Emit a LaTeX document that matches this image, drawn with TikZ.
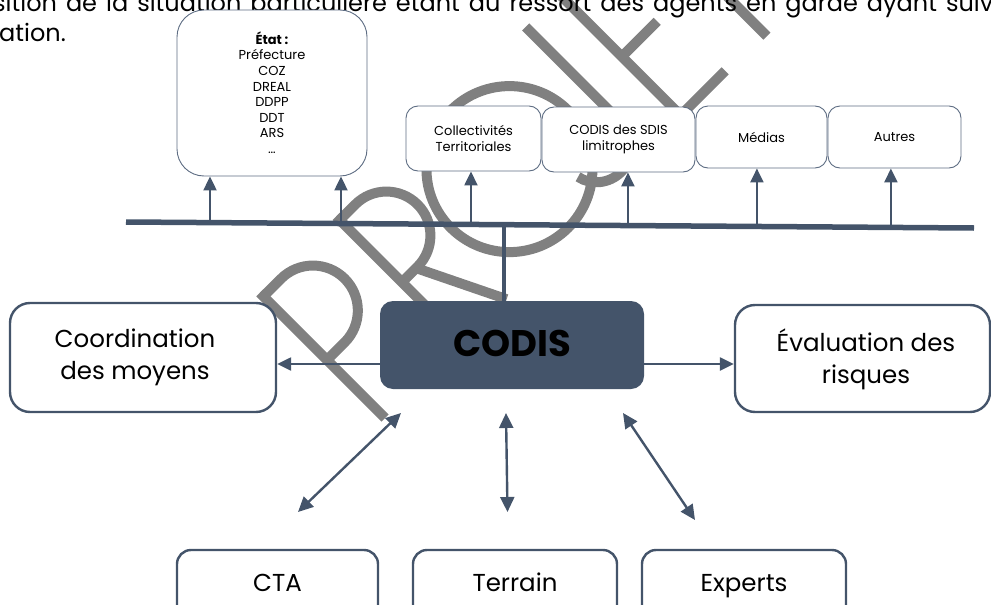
\documentclass[tikz,border=0pt]{standalone}
\usepackage{fontspec}
\setmainfont{Poppins}
\usetikzlibrary{arrows.meta,calc}
\definecolor{slate}{HTML}{44546A}
\definecolor{slateline}{HTML}{5E6D83}
\definecolor{wmgray}{HTML}{808080}
\begin{document}
\begin{tikzpicture}[x=1pt,y=-1pt,
  bigtext/.style={font=\fontsize{24.5}{32}\selectfont, align=center, text=black},
  smalltext/.style={font=\fontsize{13}{16.5}\selectfont, align=center, text=black},
  bigbox/.style={draw=slate, line width=2.4pt, rounded corners=18pt, fill=white, inner sep=0pt},
  smallbox/.style={draw=slateline, line width=0.9pt, rounded corners=12pt, fill=white, inner sep=0pt},
  oneline/.style={text height=17pt, text depth=5pt},
  uplink/.style={draw=slate, line width=2.2pt, -{Triangle[length=14pt,width=13pt]}},
  twoway/.style={draw=slate, line width=2.4pt, {Triangle[length=15pt,width=14pt]}-{Triangle[length=15pt,width=14pt]}},
  sidelink/.style={draw=slate, line width=2.4pt, -{Triangle[length=14pt,width=13pt]}},
  wm/.style={draw=wmgray, line width=10pt, line cap=butt, line join=miter}
]
\path[use as bounding box] (0,0) rectangle (991,605);
\clip (0,0) rectangle (991,605);

% --- watermark lettering, drawn behind everything ---
\begin{scope}[shift={(385,418)}, rotate=45, yscale=-1]
  % P
  \draw[wm] (0,0) -- (0,177);
  \draw[wm] (0,172) -- (25,172) .. controls (49.8,172) and (70,151.8) .. (70,127)
        .. controls (70,102.2) and (49.8,82) .. (25,82) -- (0,82);
  % R
  \draw[wm] (108,0) -- (108,177);
  \draw[wm] (108,172) -- (130,172) .. controls (154.3,172) and (174,152.3) .. (174,128)
        .. controls (174,103.7) and (154.3,84) .. (130,84) -- (108,84);
  \draw[wm] (128,84) -- (170,-2);
  % O
  \draw[wm] (264,88) circle[radius=83];
  % J
  \draw[wm] (376,177) -- (376,42) .. controls (376,22.7) and (360.3,7) .. (341,7)
        .. controls (324,7) and (310,19) .. (307,34);
  % E
  \draw[wm] (486,5) -- (423,5) -- (423,172) -- (486,172);
  \draw[wm] (423,88) -- (473,88);
  % T
  \draw[wm] (540,0) -- (540,172);
  \draw[wm] (492,172) -- (588,172);
\end{scope}

% --- running text above the chart ---
\node[anchor=base west, inner sep=0pt, font=\fontsize{24}{28}\selectfont] (line1) at (-7,11)
  {\hbox to 1006pt{sition\hfill de\hfill la\hfill situation\hfill particulière\hfill étant\hfill du\hfill ressort\hfill des\hfill agents\hfill en\hfill garde\hfill ayant\hfill suivi}};
\node[anchor=base west, inner sep=0pt, font=\fontsize{24}{28}\selectfont] (line2) at (-1,41) {ation.};

% --- partner boxes on the top row ---
\node[smallbox, rounded corners=27pt, minimum width=190pt, minimum height=166pt] (etat) at (272,93) {};
\node[smalltext, font=\fontsize{13}{15.6}\selectfont] (etattext) at (272,92.5)
  {\textbf{État :}\\Préfecture\\COZ\\DREAL\\DDPP\\DDT\\ARS\\…};
\node[smallbox, minimum width=135pt, minimum height=65pt, smalltext] (coll) at (473.5,138.5) {Collectivités\\Territoriales};
\node[smallbox, minimum width=153pt, minimum height=65pt, smalltext] (sdis) at (618.5,139.5) {CODIS des SDIS\\limitrophes};
\node[smallbox, minimum width=131pt, minimum height=62pt, smalltext] (medias) at (761.5,137) {Médias};
\node[smallbox, minimum width=133pt, minimum height=62pt, smalltext] (autres) at (894.5,137) {Autres};

% --- distribution bus ---
\coordinate (busL) at (126,222);
\coordinate (busR) at (974,228);
\foreach \px/\target/\nm in {210/etat/b1, 341/etat/b2, 471/coll/b3, 628/sdis/b4, 757/medias/b5, 891/autres/b6}{
  \coordinate (\nm) at ($(busL)!(\px,225)!(busR)$);
  \draw[uplink] (\nm) -- (\nm |- \target.south);
}
\draw[slate, line width=5.5pt] (busL) -- (busR);

% --- central node and its neighbours ---
\node[draw=none, fill=slate, rounded corners=13pt, minimum width=264pt, minimum height=88pt] (codis) at (512,345) {};
\node[font=\fontsize{37}{40}\selectfont\bfseries, text=black] (codistext) at (512,343) {CODIS};
\coordinate (bc) at ($(busL)!(504,225)!(busR)$);
\draw[slate, line width=3.5pt] (bc) -- (bc |- codis.north);

\node[bigbox, rounded corners=20pt, minimum width=266pt, minimum height=109pt] (coord) at (143,357.5) {};
\node[bigtext] (coordtext) at (135,357.5) {Coordination\\des moyens};
\node[bigbox, rounded corners=20pt, minimum width=255pt, minimum height=107pt] (eval) at (862.5,358.5) {};
\node[bigtext] (evaltext) at (866,359) {Évaluation des\\risques};
\coordinate (hy) at (0,364);
\draw[sidelink] (codis.west |- hy) -- (coord.east |- hy);
\draw[sidelink] (codis.east |- hy) -- (eval.west |- hy);

% --- bottom row ---
\node[bigbox, rounded corners=14pt, minimum width=201pt, minimum height=70pt, bigtext, oneline] (cta) at (277.5,585) {CTA};
\node[bigbox, rounded corners=14pt, minimum width=204pt, minimum height=70pt, bigtext, oneline] (terrain) at (515,585) {Terrain};
\node[bigbox, rounded corners=14pt, minimum width=204pt, minimum height=70pt, bigtext, oneline] (experts) at (744,585) {Experts};

\coordinate (ctaA) at (401,413);
\coordinate (ctaB) at (298,512);
\coordinate (terA) at (506,413);
\coordinate (terB) at (507.5,512);
\coordinate (expA) at (623,413);
\coordinate (expB) at (695,520);
\draw[twoway] (ctaA) -- (ctaB);
\draw[twoway] (terA) -- (terB);
\draw[twoway] (expA) -- (expB);
\end{tikzpicture}
\end{document}
